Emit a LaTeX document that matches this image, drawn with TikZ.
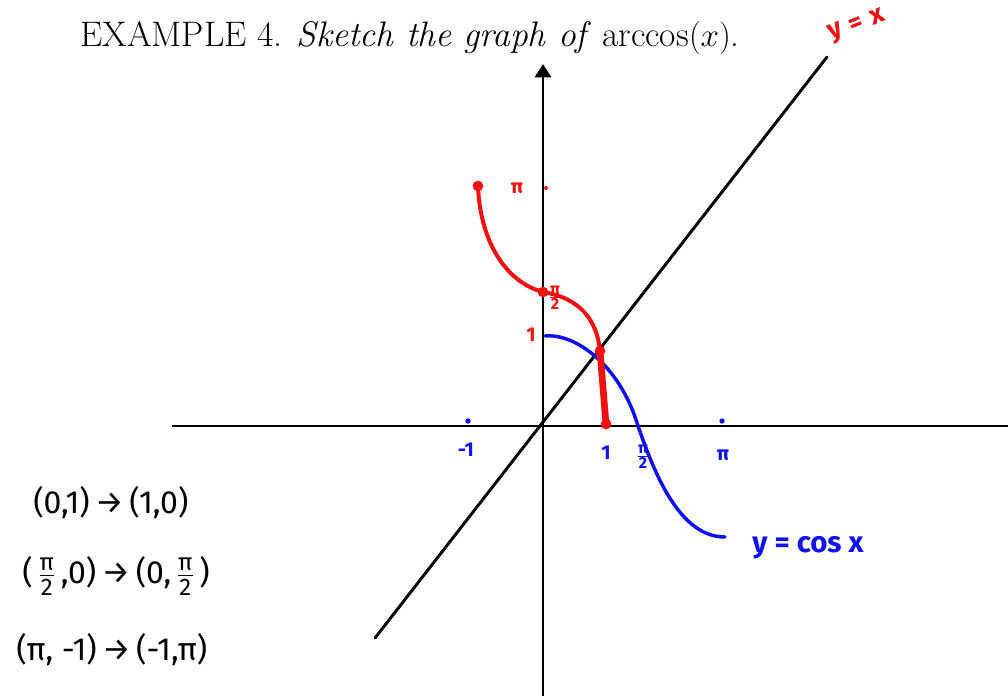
\documentclass[tikz,border=0pt]{standalone}
\usepackage{fontspec}
\newfontfamily\hand{Fira Sans}
\usetikzlibrary{arrows.meta}
\definecolor{hred}{RGB}{245,15,15}
\definecolor{hblue}{RGB}{15,15,245}
\newcommand{\hfr}[3]{$\frac{\mbox{\fontsize{#1}{#1}\selectfont #2}}{\mbox{\fontsize{#1}{#1}\selectfont #3}}$}
\tikzset{
  axis/.style={line width=2.2pt,black},
  diag/.style={line width=2.2pt,black,line cap=round},
  redc/.style={line width=3pt,hred,line cap=round},
  bluec/.style={line width=2.6pt,hblue,line cap=round},
  rdot/.style={circle,fill=hred,inner sep=0pt,minimum size=8pt},
  bdot/.style={circle,fill=hblue,inner sep=0pt,minimum size=4pt},
  rlab/.style={text=hred,font=\hand\bfseries\fontsize{15}{16}\selectfont,inner sep=0pt},
  blab/.style={text=hblue,font=\hand\bfseries\fontsize{15}{16}\selectfont,inner sep=0pt},
  klab/.style={text=black,font=\hand\fontsize{24}{26}\selectfont,inner sep=0pt,anchor=west},
  yxlab/.style={rlab,rotate=22,font=\hand\bfseries\fontsize{20}{22}\selectfont},
}
\begin{document}
\begin{tikzpicture}[x=0.75pt,y=-0.75pt]
\useasboundingbox (0,0) rectangle (1008,696);
% title
\node[anchor=base west,inner sep=0pt,font=\fontsize{26.6}{29}\selectfont] (title) at (80,46)
  {EXAMPLE 4. \textit{Sketch the graph of} $\arccos(x)$.};
% axes
\coordinate (xl) at (172,426);
\coordinate (xr) at (1016,426);
\coordinate (yb) at (543,700);
\coordinate (yt) at (543,64);
\draw[axis] (xl) -- (xr);
\draw[axis,-{Triangle[length=10pt,width=12pt]}] (yb) -- (yt);
% y = x
\coordinate (d1) at (375,638);
\coordinate (d2) at (827,57);
\draw[diag] (d1) -- (d2);
\node[yxlab] (yx1) at (836,33) {y};
\node[yxlab] (yx2) at (856,25) {=};
\node[yxlab] (yx3) at (877,16) {x};
% blue ticks and labels
\node[bdot] (tm1) at (468,421) {};
\node[bdot] (tpi) at (722,421) {};
\node[blab] (lm1) at (466,450) {-1};
\node[blab] (l1) at (606,453) {1};
\node[blab] (lpi2) at (643,457) {\hfr{12}{π}{2}};
\node[blab] (lpi) at (723,455) {π};
% blue cosine curve
\coordinate (c0) at (545,336);
\coordinate (c2) at (638,426);
\coordinate (c3) at (725,537);
\draw[bluec] (c0) .. controls (575,333) and (620,365) .. (c2)
  .. controls (655,475) and (680,537) .. (c3);
\node[blab,font=\hand\bfseries\fontsize{22}{24}\selectfont] (cosl) at (808,548) {y = cos x};
% red ticks and labels
\node[circle,fill=hred,inner sep=0pt,minimum size=3pt] (ypi) at (546,188) {};
\node[rlab] (lypi) at (517,188) {π};
\node[rlab] (ly1) at (531,335) {1};
\node[rlab] (lypi2) at (555,298) {\hfr{12}{π}{2}};
% red arccos curve
\node[rdot] (r0) at (478,186) {};
\node[rdot] (r1) at (543,292) {};
\node[rdot] (r2) at (600,351) {};
\node[rdot] (r3) at (606,424) {};
\draw[redc] (r0.center) .. controls (480,240) and (505,282) .. (r1.center)
  .. controls (580,298) and (597,320) .. (r2.center);
\draw[hred,line width=5pt,line cap=round] (r2.center) -- (r3.center);
% correspondences
\node[klab] (k1) at (33,503) {(0,1)\,→\,(1,0)};
\node[klab] (k2) at (22,576) {(\,\hfr{18}{π}{2}\,,0)\,→\,(0,\,\hfr{18}{π}{2}\,)};
\node[klab] (k3) at (16,650) {(π, -1)\,→\,(-1,π)};
\end{tikzpicture}
\end{document}
